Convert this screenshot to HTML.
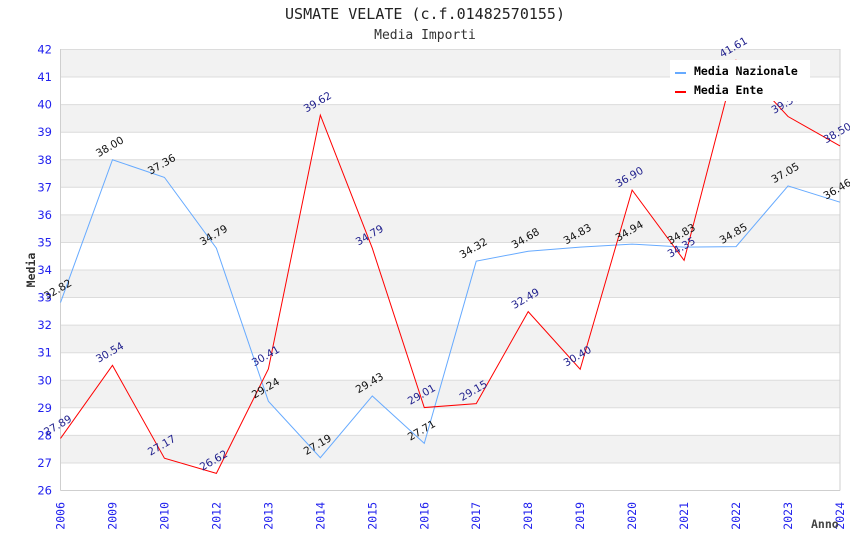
<!DOCTYPE html>
<html><head><meta charset="utf-8"><style>
html,body{margin:0;padding:0;background:#fff;}
svg{display:block;}
.mono{font-family:"DejaVu Sans Mono","Liberation Mono",monospace;}
.sans{font-family:"DejaVu Sans","Liberation Sans",sans-serif;}
</style></head><body>
<svg width="850" height="550" viewBox="0 0 850 550" xmlns="http://www.w3.org/2000/svg">
<rect width="850" height="550" fill="#fff"/>
<text x="425" y="19" text-anchor="middle" class="mono" font-size="15" fill="#222">USMATE VELATE (c.f.01482570155)</text>
<text x="425" y="39" text-anchor="middle" class="mono" font-size="13" fill="#333">Media Importi</text>
<!-- bands -->
<g fill="#f2f2f2">
<rect x="60.5" y="49.5" width="779.5" height="27.56"/>
<rect x="60.5" y="104.6" width="779.5" height="27.56"/>
<rect x="60.5" y="159.75" width="779.5" height="27.56"/>
<rect x="60.5" y="214.9" width="779.5" height="27.56"/>
<rect x="60.5" y="270" width="779.5" height="27.56"/>
<rect x="60.5" y="325.1" width="779.5" height="27.56"/>
<rect x="60.5" y="380.25" width="779.5" height="27.56"/>
<rect x="60.5" y="435.4" width="779.5" height="27.56"/>
</g>
<g stroke="#dcdcdc" stroke-width="1">
<line x1="60.5" x2="840" y1="49.5" y2="49.5"/>
<line x1="60.5" x2="840" y1="77.06" y2="77.06"/>
<line x1="60.5" x2="840" y1="104.63" y2="104.63"/>
<line x1="60.5" x2="840" y1="132.19" y2="132.19"/>
<line x1="60.5" x2="840" y1="159.75" y2="159.75"/>
<line x1="60.5" x2="840" y1="187.31" y2="187.31"/>
<line x1="60.5" x2="840" y1="214.88" y2="214.88"/>
<line x1="60.5" x2="840" y1="242.44" y2="242.44"/>
<line x1="60.5" x2="840" y1="270" y2="270"/>
<line x1="60.5" x2="840" y1="297.56" y2="297.56"/>
<line x1="60.5" x2="840" y1="325.13" y2="325.13"/>
<line x1="60.5" x2="840" y1="352.69" y2="352.69"/>
<line x1="60.5" x2="840" y1="380.25" y2="380.25"/>
<line x1="60.5" x2="840" y1="407.81" y2="407.81"/>
<line x1="60.5" x2="840" y1="435.38" y2="435.38"/>
<line x1="60.5" x2="840" y1="462.94" y2="462.94"/>
</g>
<g stroke="#cfcfcf" stroke-width="1" fill="none">
<line x1="60.5" x2="60.5" y1="49" y2="490.5"/>
<line x1="840" x2="840" y1="49" y2="490.5"/>
<line x1="60.5" x2="840" y1="490.5" y2="490.5"/>
</g>
<!-- y ticks -->
<g class="sans" font-size="11.5" fill="#2222ee" text-anchor="end">
<text x="52" y="53.5">42</text>
<text x="52" y="81">41</text>
<text x="52" y="108.6">40</text>
<text x="52" y="136.2">39</text>
<text x="52" y="163.8">38</text>
<text x="52" y="191.3">37</text>
<text x="52" y="218.9">36</text>
<text x="52" y="246.4">35</text>
<text x="52" y="274">34</text>
<text x="52" y="301.6">33</text>
<text x="52" y="329.1">32</text>
<text x="52" y="356.7">31</text>
<text x="52" y="384.3">30</text>
<text x="52" y="411.8">29</text>
<text x="52" y="439.4">28</text>
<text x="52" y="466.9">27</text>
<text x="52" y="494.5">26</text>
</g>
<!-- x labels -->
<g class="mono" font-size="11.5" fill="#2222ee" text-anchor="end">
<text transform="translate(64.5,502) rotate(-90)">2006</text>
<text transform="translate(116.5,502) rotate(-90)">2009</text>
<text transform="translate(168.4,502) rotate(-90)">2010</text>
<text transform="translate(220.4,502) rotate(-90)">2012</text>
<text transform="translate(272.4,502) rotate(-90)">2013</text>
<text transform="translate(324.3,502) rotate(-90)">2014</text>
<text transform="translate(376.3,502) rotate(-90)">2015</text>
<text transform="translate(428.3,502) rotate(-90)">2016</text>
<text transform="translate(480.2,502) rotate(-90)">2017</text>
<text transform="translate(532.2,502) rotate(-90)">2018</text>
<text transform="translate(584.2,502) rotate(-90)">2019</text>
<text transform="translate(636.1,502) rotate(-90)">2020</text>
<text transform="translate(688.1,502) rotate(-90)">2021</text>
<text transform="translate(740.1,502) rotate(-90)">2022</text>
<text transform="translate(792,502) rotate(-90)">2023</text>
<text transform="translate(844,502) rotate(-90)">2024</text>
</g>
<text transform="translate(35,270) rotate(-90)" text-anchor="middle" class="mono" font-size="11.5" font-weight="bold" fill="#333">Media</text>
<text x="811" y="528" class="mono" font-size="11.5" font-weight="bold" fill="#444">Anno</text>
<!-- series -->
<polyline fill="none" stroke="#66aaff" stroke-width="1" points="60.5,302.52 112.47,159.75 164.43,177.39 216.4,248.23 268.37,401.2 320.33,457.7 372.3,395.96 424.27,443.37 476.23,261.18 528.2,251.26 580.17,247.12 632.13,244.09 684.1,247.12 736.07,246.57 788.03,185.93 840,202.2"/>
<polyline fill="none" stroke="#ff0000" stroke-width="1" points="60.5,438.41 112.47,365.37 164.43,458.25 216.4,473.41 268.37,368.95 320.33,115.1 372.3,248.23 424.27,407.54 476.23,403.68 528.2,311.62 580.17,369.23 632.13,190.07 684.1,260.35 736.07,60.25 788.03,116.5 840,145.97"/>
<!-- labels nazionale -->
<g class="sans" font-size="10.5" fill="#111" text-anchor="middle">
<text transform="translate(59.5,292.5) rotate(-30)">32.82</text>
<text transform="translate(111.5,149.7) rotate(-30)">38.00</text>
<text transform="translate(163.4,167.4) rotate(-30)">37.36</text>
<text transform="translate(215.4,238.2) rotate(-30)">34.79</text>
<text transform="translate(267.4,391.2) rotate(-30)">29.24</text>
<text transform="translate(319.3,447.7) rotate(-30)">27.19</text>
<text transform="translate(371.3,386) rotate(-30)">29.43</text>
<text transform="translate(423.3,433.4) rotate(-30)">27.71</text>
<text transform="translate(475.2,251.2) rotate(-30)">34.32</text>
<text transform="translate(527.2,241.3) rotate(-30)">34.68</text>
<text transform="translate(579.2,237.1) rotate(-30)">34.83</text>
<text transform="translate(631.1,234.1) rotate(-30)">34.94</text>
<text transform="translate(683.1,237.1) rotate(-30)">34.83</text>
<text transform="translate(735.1,236.6) rotate(-30)">34.85</text>
<text transform="translate(787,175.9) rotate(-30)">37.05</text>
<text transform="translate(839,192.2) rotate(-30)">36.46</text>
</g>
<!-- labels ente -->
<g class="sans" font-size="10.5" fill="#1e1e8c" text-anchor="middle">
<text transform="translate(59.5,428.4) rotate(-30)">27.89</text>
<text transform="translate(111.5,355.4) rotate(-30)">30.54</text>
<text transform="translate(163.4,448.3) rotate(-30)">27.17</text>
<text transform="translate(215.4,463.4) rotate(-30)">26.62</text>
<text transform="translate(267.4,359) rotate(-30)">30.41</text>
<text transform="translate(319.3,105.1) rotate(-30)">39.62</text>
<text transform="translate(371.3,238.2) rotate(-30)">34.79</text>
<text transform="translate(423.3,397.5) rotate(-30)">29.01</text>
<text transform="translate(475.2,393.7) rotate(-30)">29.15</text>
<text transform="translate(527.2,301.6) rotate(-30)">32.49</text>
<text transform="translate(579.2,359.2) rotate(-30)">30.40</text>
<text transform="translate(631.1,180.1) rotate(-30)">36.90</text>
<text transform="translate(683.1,250.4) rotate(-30)">34.35</text>
<text transform="translate(735.1,50.3) rotate(-30)">41.61</text>
<text transform="translate(787,106.5) rotate(-30)">39.56</text>
<text transform="translate(839,136) rotate(-30)">38.50</text>
</g>
<!-- legend -->
<rect x="670" y="60" width="140" height="41" fill="#fff"/>
<line x1="675" x2="686" y1="73" y2="73" stroke="#66aaff" stroke-width="2"/>
<line x1="675" x2="686" y1="92" y2="92" stroke="#ff0000" stroke-width="2"/>
<text x="694" y="75" class="mono" font-size="11.5" font-weight="bold" fill="#000">Media Nazionale</text>
<text x="694" y="94" class="mono" font-size="11.5" font-weight="bold" fill="#000">Media Ente</text>
</svg>
</body></html>
